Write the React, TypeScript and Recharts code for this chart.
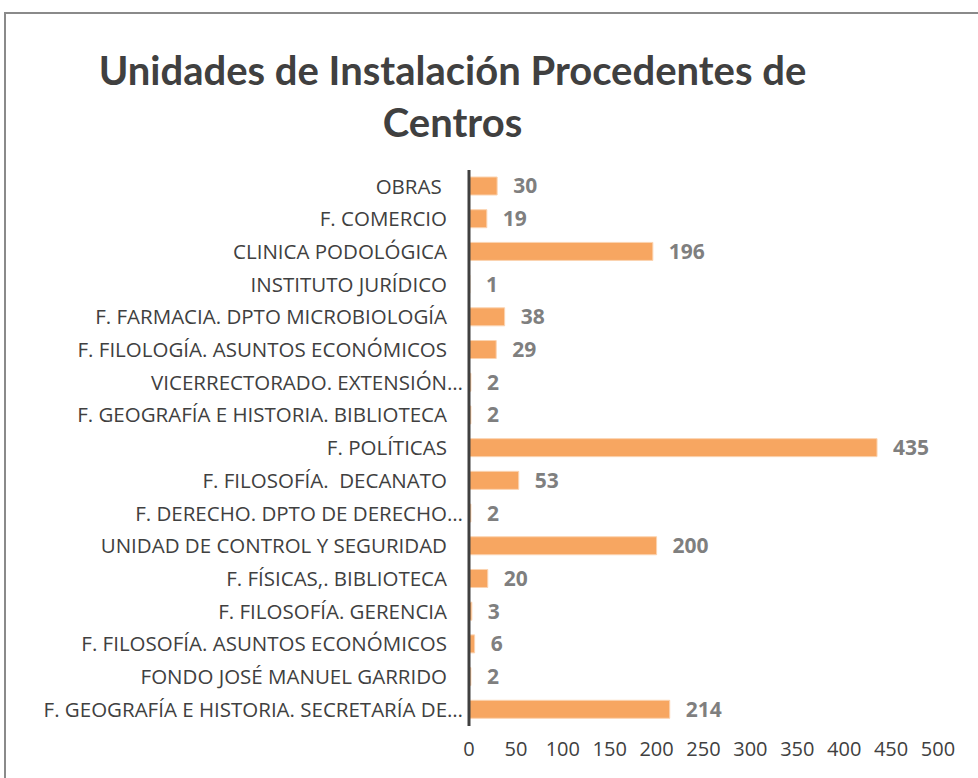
import { BarChart, Bar, XAxis, YAxis, LabelList } from 'recharts';

const categories = [
  'OBRAS ',
  'F. COMERCIO',
  'CLINICA PODOLÓGICA',
  'INSTITUTO JURÍDICO',
  'F. FARMACIA. DPTO MICROBIOLOGÍA',
  'F. FILOLOGÍA. ASUNTOS ECONÓMICOS',
  'VICERRECTORADO. EXTENSIÓN…',
  'F. GEOGRAFÍA E HISTORIA. BIBLIOTECA',
  'F. POLÍTICAS',
  'F. FILOSOFÍA.  DECANATO',
  'F. DERECHO. DPTO DE DERECHO…',
  'UNIDAD DE CONTROL Y SEGURIDAD',
  'F. FÍSICAS,. BIBLIOTECA',
  'F. FILOSOFÍA. GERENCIA',
  'F. FILOSOFÍA. ASUNTOS ECONÓMICOS',
  'FONDO JOSÉ MANUEL GARRIDO',
  'F. GEOGRAFÍA E HISTORIA. SECRETARÍA DE…',
];

const unidades = [30, 19, 196, 1, 38, 29, 2, 2, 435, 53, 2, 200, 20, 3, 6, 2, 214];

const xTicks = [0, 50, 100, 150, 200, 250, 300, 350, 400, 450, 500];

const data = categories.map((name, i) => ({ name, value: unidades[i] }));

const FONT = '"Open Sans", Lato, sans-serif';
const TITLE_FONT = 'Lato, "Open Sans", sans-serif';

const CategoryTick = (props: any) => {
  const { x = 0, y = 0, payload } = props;
  const label: string = payload?.value ?? '';
  const truncated = label.endsWith('…');
  return (
    <text
      x={truncated ? x : x - 16}
      y={y}
      dy='0.35em'
      textAnchor='end'
      fill='#404040'
      fontSize={20.5}
      fontFamily={FONT}
      style={{ whiteSpace: 'pre' }}
    >
      {label}
    </text>
  );
};

export default function App() {
  return (
    <div style={{ position: 'absolute', left: 0, top: 0, width: 978, height: 778, overflow: 'hidden', background: '#fff' }}>
      <div
        style={{
          position: 'absolute',
          left: 4,
          top: 12,
          width: 1000,
          height: 800,
          borderTop: '2px solid #8a8a8a',
          borderLeft: '2px solid #8a8a8a',
        }}
      />
      <div
        style={{
          position: 'absolute',
          left: 0,
          top: 44,
          width: 905,
          textAlign: 'center',
          fontFamily: TITLE_FONT,
          fontWeight: 700,
          fontSize: 40,
          lineHeight: '52px',
          color: '#404040',
        }}
      >
        Unidades de Instalación Procedentes de
        <br />
        Centros
      </div>
      <div style={{ position: 'absolute', left: 0, top: 0 }}>
        <BarChart
          width={978}
          height={778}
          data={data}
          layout='vertical'
          margin={{ top: 170, right: 40, bottom: 0, left: 0 }}
          barSize={18}
        >
          <XAxis
            type='number'
            domain={[0, 500]}
            ticks={xTicks}
            interval={0}
            axisLine={false}
            tickLine={false}
            tickMargin={10}
            height={52}
            tick={{ fill: '#404040', fontSize: 20, fontFamily: FONT }}
          />
          <YAxis
            type='category'
            dataKey='name'
            width={469}
            interval={0}
            tickLine={false}
            axisLine={{ stroke: '#404040', strokeWidth: 3 }}
            tickMargin={0}
            tick={<CategoryTick />}
          />
          <Bar dataKey='value' fill='#F7A661' stroke='#FBD3B0' strokeWidth={1} isAnimationActive={false}>
            <LabelList
              dataKey='value'
              position='right'
              offset={16}
              fill='#7F7F7F'
              fontSize={21}
              fontWeight={700}
              fontFamily={FONT}
            />
          </Bar>
        </BarChart>
      </div>
    </div>
  );
}
